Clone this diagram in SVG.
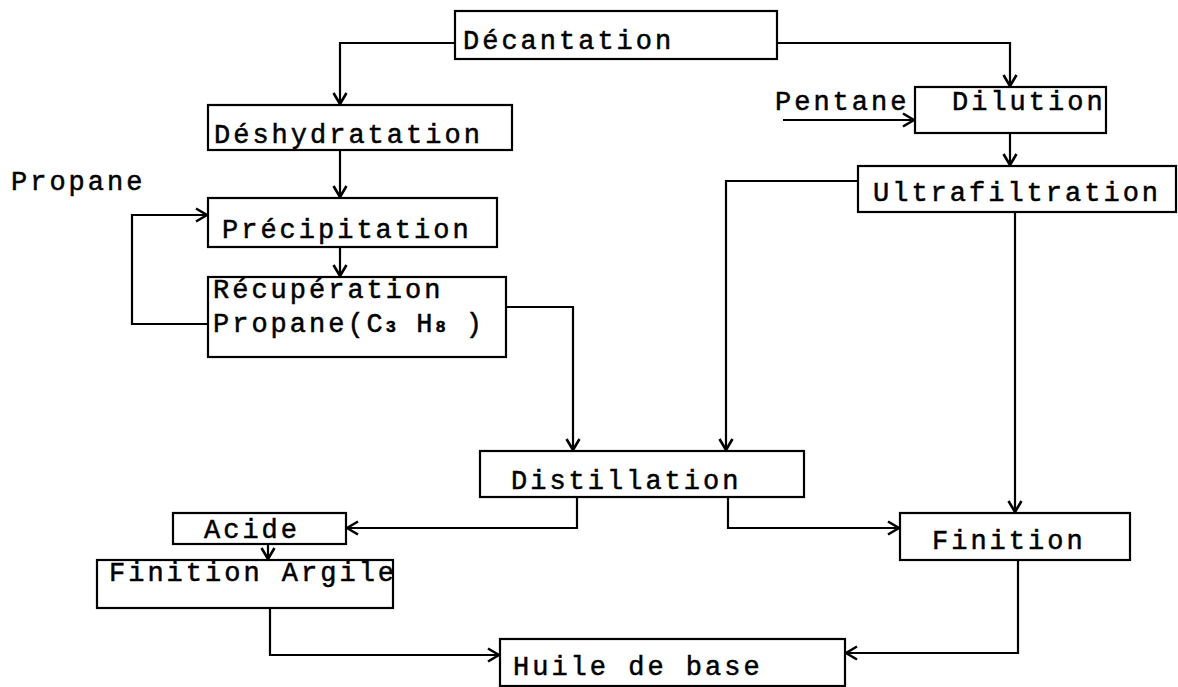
<svg xmlns="http://www.w3.org/2000/svg" width="1178" height="687" viewBox="0 0 1178 687">
<style>
.box{fill:#fff;stroke:#000;stroke-width:2.2}
.t{font-family:"Liberation Mono","Courier New",monospace;font-size:27px;letter-spacing:3px;fill:#000;stroke:#000;stroke-width:0.5}
.sub{font-size:17px;font-weight:bold;letter-spacing:1px}
.c{fill:none;stroke:#000;stroke-width:2.2}
</style>
<defs>
<marker id="ah" markerUnits="userSpaceOnUse" viewBox="-13 -8 15 16" refX="0" refY="0" markerWidth="15" markerHeight="16" orient="auto">
<path d="M-11,-6.5 L0,0 L-11,6.5" fill="none" stroke="#000" stroke-width="2.6" stroke-linejoin="miter"/>
</marker>
</defs>
<rect width="1178" height="687" fill="#fff"/>
<g id="connectors">
<path class="c" d="M455,43 H340 V104" marker-end="url(#ah)"/>
<path class="c" d="M777,43 H1010 V86" marker-end="url(#ah)"/>
<path class="c" d="M340,150 V197" marker-end="url(#ah)"/>
<path class="c" d="M340,247 V276" marker-end="url(#ah)"/>
<path class="c" d="M208,324 H132 V215 H207" marker-end="url(#ah)"/>
<path class="c" d="M504,307 H573 V450" marker-end="url(#ah)"/>
<path class="c" d="M858,181 H726 V450" marker-end="url(#ah)"/>
<path class="c" d="M783,120 H914" marker-end="url(#ah)"/>
<path class="c" d="M1010,133 V165" marker-end="url(#ah)"/>
<path class="c" d="M1015,212 V512" marker-end="url(#ah)"/>
<path class="c" d="M577,497 V528 H347" marker-end="url(#ah)"/>
<path class="c" d="M728,497 V528 H899" marker-end="url(#ah)"/>
<path class="c" d="M268,544 V559" marker-end="url(#ah)"/>
<path class="c" d="M270,608 V655 H499" marker-end="url(#ah)"/>
<path class="c" d="M1018,560 V653 H846" marker-end="url(#ah)"/>
</g>
<g id="decantation"><rect class="box" x="455" y="11" width="322" height="48"/><text class="t" x="463" y="49">Décantation</text></g>
<g id="deshydratation"><rect class="box" x="208" y="105" width="304" height="45"/><text class="t" x="214" y="143">Déshydratation</text></g>
<g id="precipitation"><rect class="box" x="208" y="198" width="289" height="49"/><text class="t" x="222" y="238">Précipitation</text></g>
<g id="recuperation"><rect class="box" x="208" y="277" width="298" height="80"/><text class="t" x="213" y="298">Récupération</text><text class="t" x="213" y="332">Propane(C<tspan class="sub">3</tspan>  H<tspan class="sub">8</tspan> )</text></g>
<g id="propane-label"><text class="t" x="11" y="190">Propane</text></g>
<g id="pentane-label"><text class="t" x="775" y="110">Pentane</text></g>
<g id="dilution"><rect class="box" x="915" y="87" width="191" height="46"/><text class="t" x="952" y="110">Dilution</text></g>
<g id="ultrafiltration"><rect class="box" x="858" y="166" width="318" height="46"/><text class="t" x="873" y="201">Ultrafiltration</text></g>
<g id="distillation"><rect class="box" x="480" y="451" width="324" height="46"/><text class="t" x="511" y="489">Distillation</text></g>
<g id="acide"><rect class="box" x="173" y="513" width="173" height="31"/><text class="t" x="204" y="538">Acide</text></g>
<g id="finition-argile"><rect class="box" x="97" y="560" width="296" height="48"/><text class="t" x="109" y="581">Finition Argile</text></g>
<g id="finition"><rect class="box" x="900" y="513" width="230" height="47"/><text class="t" x="932" y="549">Finition</text></g>
<g id="huile-de-base"><rect class="box" x="500" y="639" width="345" height="47"/><text class="t" x="513" y="675">Huile de base</text></g>
</svg>
